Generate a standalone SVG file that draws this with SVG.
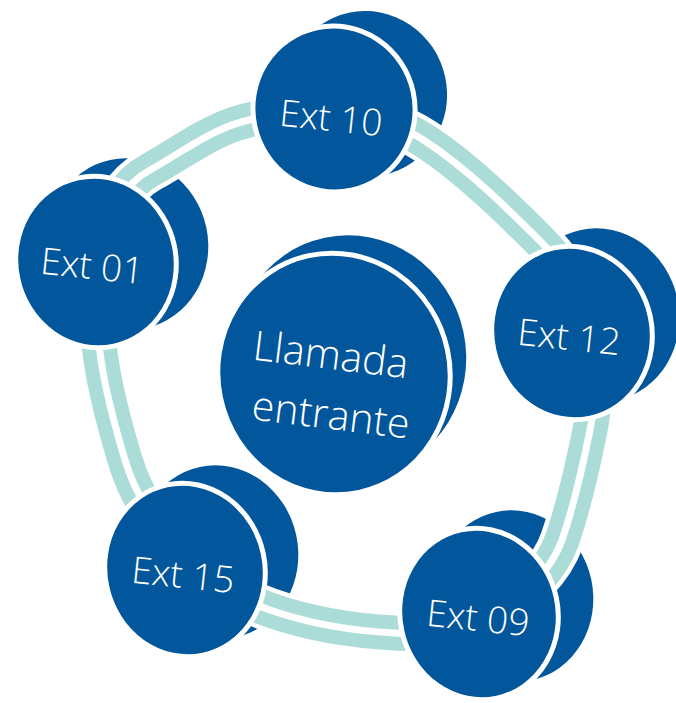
<svg xmlns="http://www.w3.org/2000/svg" width="676" height="703" viewBox="0 0 676 703">
<style>
.back{fill:#02569B;}
.front{fill:#02569B;stroke:#FFFFFF;stroke-width:5;}
.lbl{fill:#FFFFFF;font-family:"Open Sans","Noto Sans","DejaVu Sans",sans-serif;font-weight:300;font-size:37px;text-anchor:middle;}
.big{font-size:41px;}
.ringW{fill:none;stroke:#FFFFFF;stroke-width:44;}
.ringT{fill:none;stroke:#ABDCD7;stroke-width:35;}
.ringS{fill:none;stroke:#FFFFFF;stroke-width:7;}
</style>
<defs>
<path id="ringPath" d="M150,170 C180.7,153.1 211,129.5 245,121 C303,106.4 370,105 425,141 C465,167 505.2,206.2 542,243 C587,288 602.5,367.2 590,430 C582.5,467.3 574.5,504.1 562,540 C540.9,600.4 458.9,636.2 395,633 C353,630.9 309.6,623.9 270,610 C204.9,587.2 144.8,526.1 125,460 C115.2,427.4 106,393.6 101,360 C91.4,295.7 93,201.3 150,170 Z"/>
</defs>
<rect width="676" height="703" fill="#FFFFFF"/>
<g id="backs">
<ellipse class="back" cx="366" cy="94" rx="81" ry="83" transform="rotate(-12 366 94)"/>
<ellipse class="back" cx="128" cy="244" rx="80" ry="86" transform="rotate(-12 128 244)"/>
<ellipse class="back" cx="599" cy="315" rx="80" ry="87" transform="rotate(-12 599 315)"/>
<ellipse class="back" cx="218" cy="552" rx="80" ry="87" transform="rotate(-12 218 552)"/>
<ellipse class="back" cx="514" cy="596" rx="79" ry="86" transform="rotate(-12 514 596)"/>
<ellipse class="back" cx="350" cy="356" rx="116" ry="121" transform="rotate(-12 350 356)"/>
</g>
<g id="connectors">
<use href="#ringPath" class="ringW"/>
<use href="#ringPath" class="ringT"/>
<use href="#ringPath" class="ringS"/>
</g>
<g id="node-ext10">
<ellipse class="front" cx="334" cy="109" rx="81" ry="83" transform="rotate(-12 334 109)"/>
<text class="lbl" x="331" y="131" transform="rotate(6 331 118)">Ext 10</text>
</g>
<g id="node-ext01">
<ellipse class="front" cx="96" cy="262" rx="80" ry="86" transform="rotate(-12 96 262)"/>
<text class="lbl" x="92" y="279" transform="rotate(6 92 266)">Ext 01</text>
</g>
<g id="node-ext12">
<ellipse class="front" cx="572" cy="333" rx="80" ry="87" transform="rotate(-12 572 333)"/>
<text class="lbl" x="569" y="350" transform="rotate(6 569 337)">Ext 12</text>
</g>
<g id="node-ext15">
<ellipse class="front" cx="185" cy="570" rx="80" ry="87" transform="rotate(-12 185 570)"/>
<text class="lbl" x="183" y="588" transform="rotate(6 183 575)">Ext 15</text>
</g>
<g id="node-ext09">
<ellipse class="front" cx="479" cy="614" rx="79" ry="86" transform="rotate(-12 479 614)"/>
<text class="lbl" x="478" y="631" transform="rotate(6 478 618)">Ext 09</text>
</g>
<g id="node-center">
<ellipse class="front" cx="334" cy="374" rx="116" ry="121" transform="rotate(-12 334 374)"/>
<text class="lbl big" x="331" y="369" transform="rotate(7 331 354)">Llamada</text>
<text class="lbl big" x="331" y="429" transform="rotate(7 331 415)">entrante</text>
</g>
</svg>
